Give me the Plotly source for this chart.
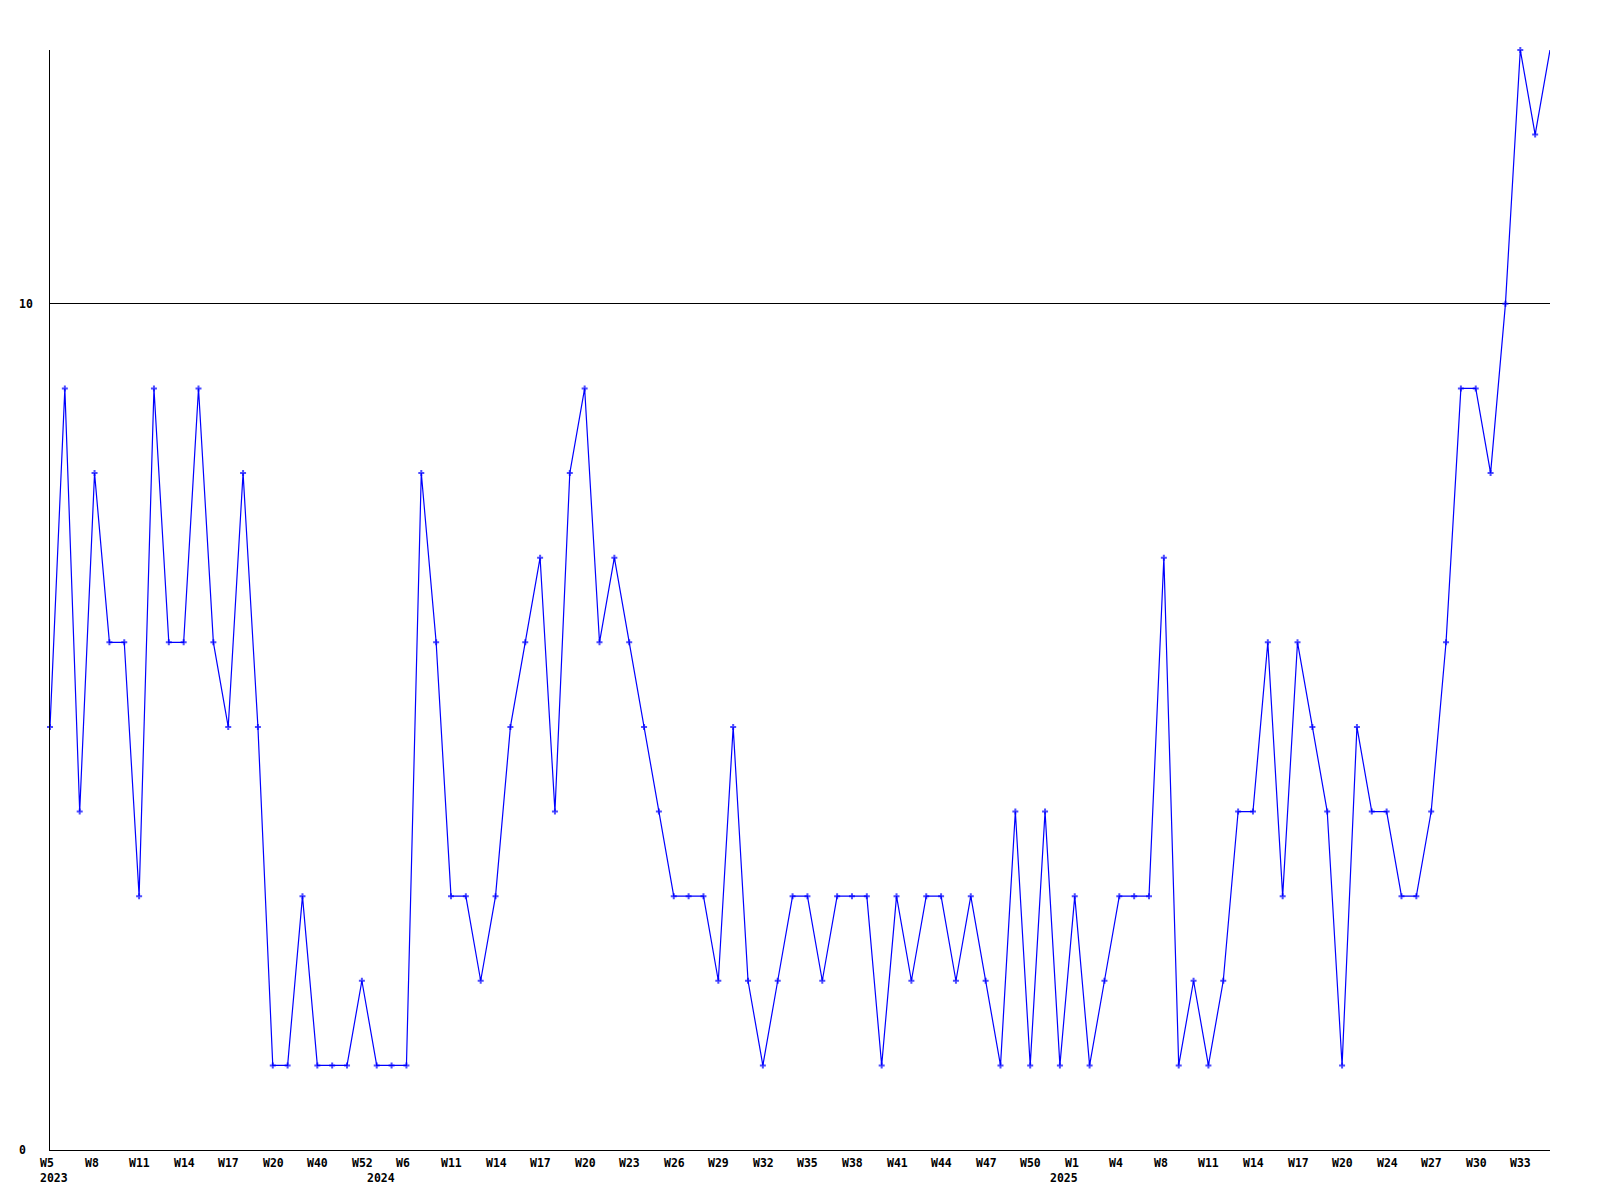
import plotly.graph_objects as go

# Weekly values (one per plotted week, evenly spaced)
values = [5, 9, 4, 8, 6, 6, 3, 9, 6, 6,
          9, 6, 5, 8, 5, 1, 1, 3, 1, 1,
          1, 2, 1, 1, 1, 8, 6, 3, 3, 2,
          3, 5, 6, 7, 4, 8, 9, 6, 7, 6,
          5, 4, 3, 3, 3, 2, 5, 2, 1, 2,
          3, 3, 2, 3, 3, 3, 1, 3, 2, 3,
          3, 2, 3, 2, 1, 4, 1, 4, 1, 3,
          1, 2, 3, 3, 3, 7, 1, 2, 1, 2,
          4, 4, 6, 3, 6, 5, 4, 1, 5, 4,
          4, 3, 3, 4, 6, 9, 9, 8, 10, 13,
          12, 13]

# Week tick labels, shown at every third point
tick_labels = ["W5", "W8", "W11", "W14", "W17", "W20", "W40", "W52", "W6", "W11",
               "W14", "W17", "W20", "W23", "W26", "W29", "W32", "W35", "W38", "W41",
               "W44", "W47", "W50", "W1", "W4", "W8", "W11", "W14", "W17", "W20",
               "W24", "W27", "W30", "W33"]
tick_step = 3

# Year labels and the point index where each year starts
year_labels = ["2023", "2024", "2025"]
year_index = [0, 22, 68]

y_ticks = [0, 10]

x_idx = list(range(len(values)))
font = dict(family="DejaVu Sans Mono", size=11.5, color="black", weight="bold")

marker_sizes = [5] * len(values)
marker_sizes[-1] = 0

fig = go.Figure()
fig.add_trace(go.Scatter(
    x=x_idx, y=values, mode="lines+markers",
    line=dict(color="#0000ff", width=1.2),
    marker=dict(symbol="cross", size=marker_sizes, color="#0000ff", line=dict(width=0)),
    cliponaxis=False, hoverinfo="skip",
))

annotations = []
for i, lab in enumerate(tick_labels):
    annotations.append(dict(x=i * tick_step, y=0, xref="x", yref="y", text=lab,
                            showarrow=False, xanchor="left", yanchor="middle",
                            xshift=-12, yshift=-13, font=font))
for lab, idx in zip(year_labels, year_index):
    annotations.append(dict(x=idx, y=0, xref="x", yref="y", text=lab,
                            showarrow=False, xanchor="left", yanchor="middle",
                            xshift=-12, yshift=-28, font=font))
for v in y_ticks:
    annotations.append(dict(x=0, y=v, xref="x", yref="y", text=str(v),
                            showarrow=False, xanchor="left", yanchor="middle",
                            xshift=-33, font=font))

fig.update_layout(
    width=1584, height=1184,
    margin=dict(l=42, r=42, t=42, b=42),
    paper_bgcolor="white", plot_bgcolor="white",
    showlegend=False,
    annotations=annotations,
    xaxis=dict(range=[0, len(values) - 1], showgrid=False, zeroline=False,
               showline=True, linecolor="black", linewidth=1,
               showticklabels=False, ticks=""),
    yaxis=dict(range=[0, 13], tickvals=y_ticks, showgrid=True, gridcolor="black",
               gridwidth=1, zeroline=False, showline=True, linecolor="black",
               linewidth=1, showticklabels=False, ticks=""),
)

fig.write_html("out.html")
